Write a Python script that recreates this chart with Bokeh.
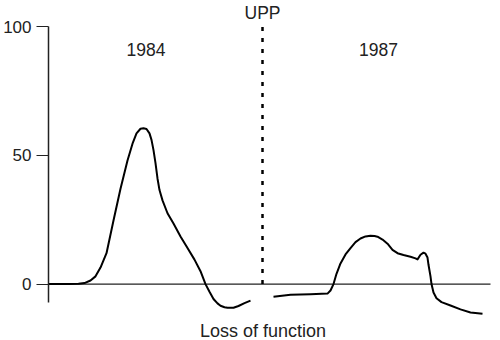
from bokeh.plotting import figure
from bokeh.models import LinearAxis, FixedTicker, Range1d, Label
from bokeh.embed import file_html
from bokeh.resources import INLINE

# Curve 1984 (before UPP)
x_1984 = [0, 20, 30, 36, 42, 47, 52, 58, 65, 72, 79, 84, 88, 92, 95, 98, 101, 103, 105,
          107, 109, 111, 114, 119, 125, 132, 139, 146, 152, 157, 161, 165, 169, 172, 176,
          179, 185, 190, 196, 202]
y_1984 = [0, 0, 0.1, 0.4, 1.4, 3, 6.4, 12, 24.7, 37, 48, 54.5, 58.5, 60.3, 60.5, 60.2,
          58.5, 56, 52, 47, 41, 36.5, 32.5, 27.5, 23.5, 18.5, 14, 9.5, 5, 0, -3, -5.8,
          -7.5, -8.4, -9, -9.2, -9.2, -8.5, -7.4, -6.4]

# Curve 1987 (after UPP)
x_1987 = [225, 242, 262, 279, 282, 285, 288, 292, 297, 302, 307, 312, 317, 322, 326, 329,
          334, 339, 344, 349, 355, 362, 367, 369, 372, 375, 377, 379, 380, 382, 383, 385,
          388, 393, 402, 412, 422, 434]
y_1987 = [-4.9, -4.1, -3.9, -3.7, -2.5, 0, 4, 8, 11.5, 14, 16.3, 17.7, 18.5, 18.8, 18.7,
          18.4, 17.3, 15.7, 13.3, 12, 11.3, 10.6, 10.0, 9.6, 11.4, 12.2, 11.8, 10.3, 7.5,
          3, 0, -3.3, -5.5, -7, -8.3, -9.8, -11, -11.5]

upp_x = 214
y_ticks = [0, 50, 100]
labels = {"UPP": (214, 105.4), "1984": (97.5, 91.1), "1987": (330, 91.1)}
xlabel = "Loss of function"

FONT = "Liberation Sans"

p = figure(width=500, height=340, output_backend="svg", toolbar_location=None,
           x_axis_type=None, y_axis_type=None,
           x_range=Range1d(0, 444), y_range=Range1d(-21.9, 110.1),
           min_border_left=48, min_border_right=8, min_border_top=0, min_border_bottom=0)
p.outline_line_color = None
p.grid.visible = False
p.background_fill_color = "white"
p.border_fill_color = "white"

yaxis = LinearAxis(ticker=FixedTicker(ticks=y_ticks), bounds=(-7, 100))
yaxis.axis_line_color = "#222222"
yaxis.axis_line_width = 1.5
yaxis.major_tick_line_color = "#222222"
yaxis.major_tick_line_width = 1.2
yaxis.major_tick_out = 12
yaxis.major_tick_in = 0
yaxis.minor_tick_line_color = None
yaxis.major_label_standoff = 5
yaxis.major_label_text_font = FONT
yaxis.major_label_text_font_size = "17px"
yaxis.major_label_text_color = "#222222"
p.add_layout(yaxis, "left")

# zero line
p.segment(x0=[0], y0=[0], x1=[442], y1=[0], line_color="#222222", line_width=1.2)

# UPP dashed line
p.segment(x0=[upp_x], y0=[0], x1=[upp_x], y1=[100], line_color="black", line_width=2.5,
          line_dash="4 7")

p.line(x_1984, y_1984, line_color="black", line_width=2, line_join="round")
p.line(x_1987, y_1987, line_color="black", line_width=2, line_join="round")

for txt, (lx, ly) in labels.items():
    p.add_layout(Label(x=lx, y=ly, text=txt, text_font=FONT, text_font_size="17.5px",
                       text_align="center", text_baseline="middle", text_color="#222222"))

p.add_layout(Label(x=214.5, y=-18.1, text=xlabel, text_font=FONT, text_font_size="18px",
                   text_align="center", text_baseline="middle", text_color="#222222"))

open("out.html", "w").write(file_html(p, INLINE))
